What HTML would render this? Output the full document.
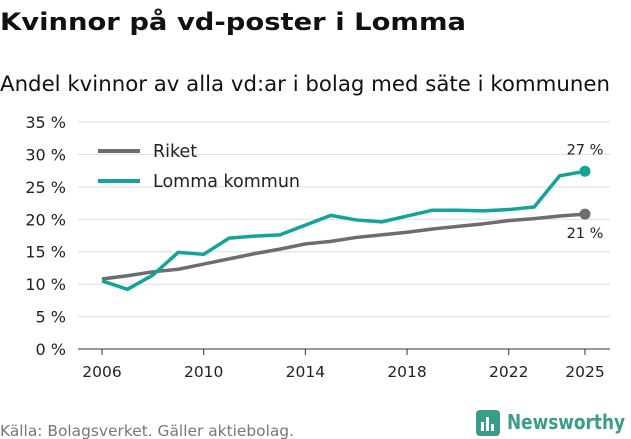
<!DOCTYPE html>
<html><head><meta charset="utf-8">
<style>
body{margin:0;width:631px;height:439px;background:#fff;font-family:"DejaVu Sans","Liberation Sans",sans-serif;overflow:hidden;position:relative}
svg{position:absolute;left:0;top:0}
</style></head><body>
<svg id="chart" width="631" height="439">
<text x="0" y="30" font-size="24" font-weight="bold" fill="#111" textLength="466" lengthAdjust="spacingAndGlyphs">Kvinnor på vd-poster i Lomma</text>
<text x="0" y="91" font-size="21" fill="#111" textLength="610" lengthAdjust="spacingAndGlyphs">Andel kvinnor av alla vd:ar i bolag med säte i kommunen</text>
<text x="0" y="436" font-size="15" fill="#777" textLength="294" lengthAdjust="spacingAndGlyphs">Källa: Bolagsverket. Gäller aktiebolag.</text>
<g>
<rect x="476" y="410" width="24" height="26" rx="4" fill="#3a9c8a"/><rect x="481" y="422" width="3" height="9" fill="#fff"/><rect x="486" y="417" width="3" height="14" fill="#fff"/><rect x="491" y="424" width="3" height="7" fill="#fff"/>
<text x="507" y="429" font-size="20" font-weight="bold" fill="#3a9c8a" textLength="118" lengthAdjust="spacingAndGlyphs">Newsworthy</text>
</g>
</svg>
<script>
const years=[2006,2007,2008,2009,2010,2011,2012,2013,2014,2015,2016,2017,2018,2019,2020,2021,2022,2023,2024,2025];
const riket=[10.8,11.3,11.9,12.3,13.1,13.9,14.7,15.4,16.2,16.6,17.2,17.6,18.0,18.5,18.9,19.3,19.8,20.1,20.5,20.8];
const lomma=[10.5,9.2,11.4,14.9,14.6,17.1,17.4,17.6,19.1,20.6,19.9,19.6,20.5,21.4,21.4,21.3,21.5,21.9,26.7,27.4];
const yTicks=[0,5,10,15,20,25,30,35];
const xTicks=[2006,2010,2014,2018,2022,2025];
const NS="http://www.w3.org/2000/svg";
const svg=document.getElementById('chart');
const X=v=>102+(v-2006)*(585-102)/19;
const Y=v=>349-v*(349-122)/35;
function el(t,a){const e=document.createElementNS(NS,t);for(const k in a)e.setAttribute(k,a[k]);svg.appendChild(e);return e;}
yTicks.forEach(t=>{
 const g=el('line',{x1:78,x2:610,y1:Y(t),y2:Y(t),stroke:t===0?'#333':'#ddd','stroke-width':1});
 
 
 const l=el('text',{x:66,y:Y(t)+6,'text-anchor':'end','font-size':16,fill:'#222'});
 l.textContent=t+' %';
 
 
});
xTicks.forEach(t=>{
 const tk=el('line',{x1:X(t),x2:X(t),y1:349,y2:355,stroke:'#333'});
 
 
 const l=el('text',{x:X(t),y:377,'text-anchor':'middle','font-size':15.5,fill:'#222'});
 l.textContent=t;
 
 
});
function series(vals,color,name,labelDy){
 const p=el('polyline',{points:vals.map((v,i)=>X(years[i])+','+Y(v)).join(' '),fill:'none',stroke:color,'stroke-width':3.5,'stroke-linejoin':'round'});
 
 
 const last=vals[vals.length-1];
 const c=el('circle',{cx:X(years[years.length-1]),cy:Y(last),r:5.5,fill:color});
 
 
 const t=el('text',{x:X(years[years.length-1]),y:Y(last)+labelDy,'text-anchor':'middle','font-size':14.5,fill:'#222'});
 t.textContent=Math.round(last)+' %';
 
 
}
series(riket,'#6d6d70','riket',24);
series(lomma,'#12a496','lomma',-17);
[['Riket','#6d6d70',151],['Lomma kommun','#12a496',181]].forEach(([n,c,y])=>{
 const l=el('line',{x1:98,x2:140,y1:y,y2:y,stroke:c,'stroke-width':4});
 
 
 const t=el('text',{x:153,y:y+6,'font-size':17.5,fill:'#222'});
 t.textContent=n;
 
 
});
</script>
</body></html>
